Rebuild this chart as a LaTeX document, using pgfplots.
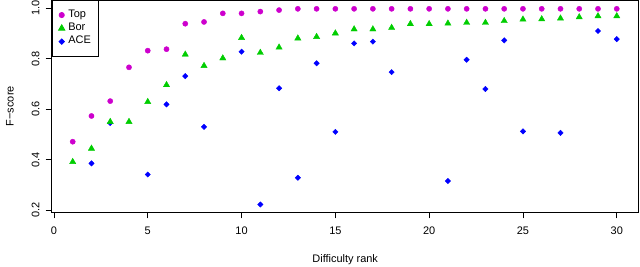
\documentclass[border=0pt]{standalone}
\usepackage{fontspec}
\setmainfont{Liberation Sans}
\usepackage{pgfplots}
\pgfplotsset{compat=1.18}
\definecolor{topc}{HTML}{CD00CD}
\definecolor{borc}{HTML}{00CD00}
\definecolor{acec}{HTML}{0000FF}
\begin{document}
\begin{tikzpicture}
\begin{axis}[
  at={(0,0)}, anchor=south west,
  scale only axis, width=587bp, height=212.3bp,
  xmin=-0.12, xmax=31.17, ymin=0.191, ymax=1.033,
  axis line style={line width=0.8bp},
  every tick/.style={black, line width=0.8bp},
  tick align=outside, major tick length=6bp,
  xtick={0,5,10,15,20,25,30},
  ytick={0.2,0.4,0.6,0.8,1.0},
  yticklabels={0.2,0.4,0.6,0.8,1.0},
  xtick pos=bottom, ytick pos=left,
  /pgf/number format/assume math mode=true,
  tick label style={font=\fontsize{11}{13}\selectfont},
  yticklabel style={rotate=90, anchor=south, inner sep=6bp},
  xticklabel style={inner sep=3bp, yshift=-5bp},
  xlabel={Difficulty rank},
  ylabel={F−score},
  label style={font=\fontsize{11}{13}\selectfont},
  xlabel style={at={(axis description cs:0.5,-0.221)}, anchor=center},
  ylabel style={at={(axis description cs:-0.071,0.5)}, anchor=center, rotate=0},
  clip=false,
  reverse legend,
  legend style={at={(0,1)}, anchor=north west, draw=black, line width=0.8bp,
    font=\fontsize{11}{13}\selectfont, inner xsep=6.5bp, inner ysep=8bp,
    row sep=0pt, column sep=2bp,
    nodes={inner xsep=1.5bp, inner ysep=0pt, text height=9bp, text depth=4.3bp}},
  legend cell align=left,
]
\addplot[only marks, mark=square*, mark size=1.9bp, mark options={rotate=45, draw=acec, fill=acec}]
coordinates {(2,0.385)(3,0.545)(5,0.341)(6,0.619)(7,0.731)(8,0.530)(10,0.828)(11,0.222)(12,0.683)(13,0.328)(14,0.782)(15,0.510)(16,0.861)(17,0.868)(18,0.747)(21,0.315)(22,0.796)(23,0.680)(24,0.873)(25,0.512)(27,0.506)(29,0.910)(30,0.878)};
\addlegendentry{ACE}
\addplot[only marks, mark=triangle*, mark size=3.6bp, mark options={draw=borc, fill=borc}]
coordinates {(1,0.391)(2,0.444)(3,0.550)(4,0.550)(5,0.629)(6,0.696)(7,0.817)(8,0.772)(9,0.802)(10,0.883)(11,0.824)(12,0.845)(13,0.881)(14,0.887)(15,0.901)(16,0.917)(17,0.917)(18,0.923)(19,0.938)(20,0.938)(21,0.940)(22,0.943)(23,0.943)(24,0.950)(25,0.956)(26,0.957)(27,0.960)(28,0.965)(29,0.969)(30,0.969)};
\addlegendentry{Bor}
\addplot[only marks, mark=*, mark size=2.6bp, mark options={draw=topc, fill=topc}]
coordinates {(1,0.471)(2,0.573)(3,0.632)(4,0.766)(5,0.832)(6,0.838)(7,0.939)(8,0.946)(9,0.980)(10,0.980)(11,0.987)(12,0.993)(13,0.998)(14,0.998)(15,0.998)(16,0.998)(17,0.998)(18,0.998)(19,0.998)(20,0.998)(21,0.998)(22,0.998)(23,0.998)(24,0.998)(25,0.998)(26,0.998)(27,0.998)(28,0.998)(29,0.998)(30,0.998)};
\addlegendentry{Top}
\end{axis}
\pgfresetboundingbox
\path[use as bounding box] (-51.7bp,-54.7bp) rectangle (588.3bp,212.3bp);
\end{tikzpicture}
\end{document}
